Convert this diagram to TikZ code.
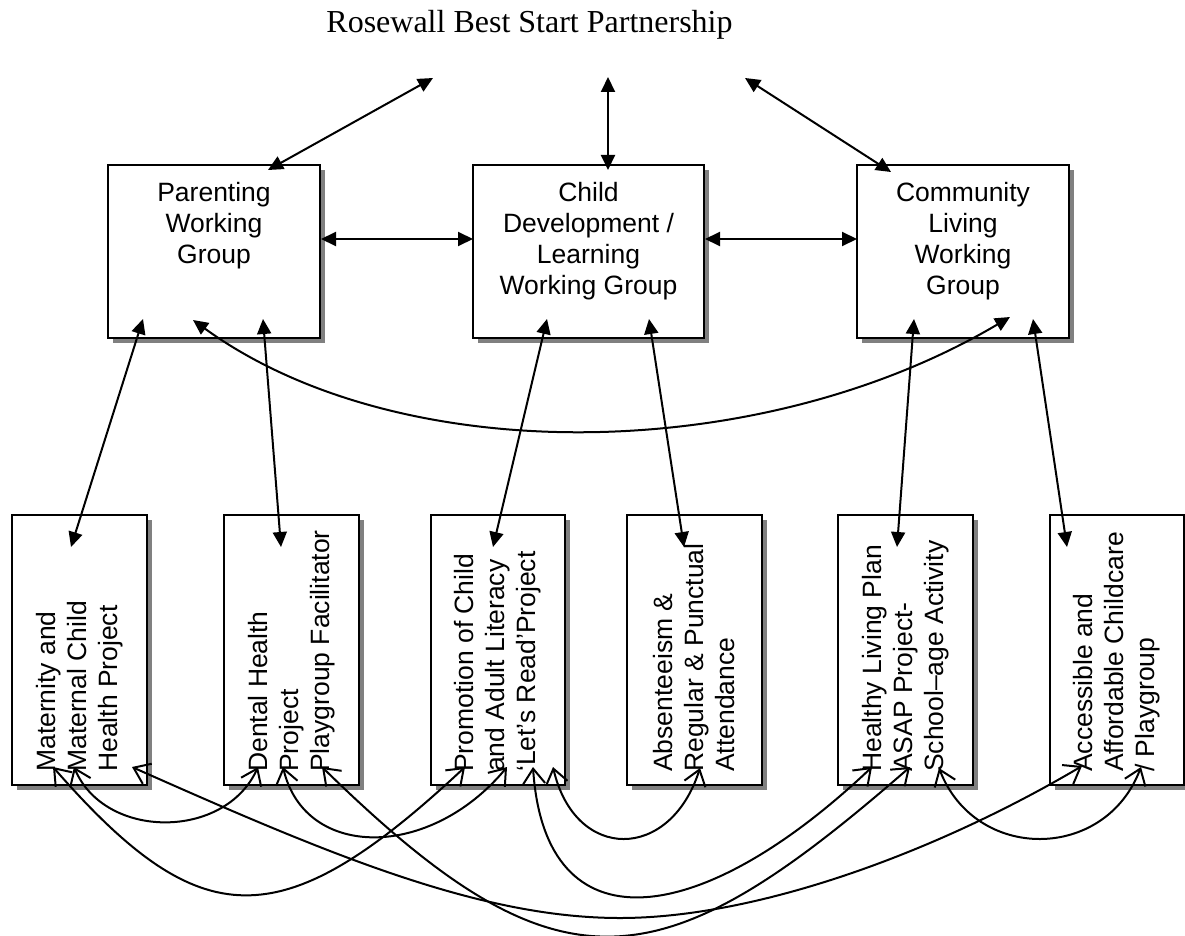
\documentclass[tikz,border=0pt]{standalone}
\usepackage{fontspec}
\setmainfont{Liberation Serif}
\newfontfamily\arialfont{Liberation Sans}
\usetikzlibrary{arrows.meta,shadows}
\definecolor{shadowgray}{RGB}{128,128,128}
\newcommand\boxfont{\arialfont\fontsize{26.5}{31}\selectfont}
\begin{document}
\begin{tikzpicture}[x=1pt,y=-1pt,
  box/.style={draw=black, line width=2.4pt, fill=white, inner sep=0pt,
    drop shadow={shadow xshift=5pt, shadow yshift=-5pt, fill=shadowgray, opacity=1}},
  topbox/.style={box, minimum height=173pt},
  lowbox/.style={box, minimum width=135pt, minimum height=270pt},
  toptext/.style={anchor=north, align=center, inner sep=0pt, font=\boxfont},
  lowtext/.style={rotate=90, anchor=west, align=left, inner sep=0pt, font=\boxfont},
  link/.style={line width=2pt, {Triangle[length=15pt,width=14pt]}-{Triangle[length=15pt,width=14pt]}},
  cross/.style={line width=2pt, {Straight Barb[length=15pt,width=22pt]}-{Straight Barb[length=15pt,width=22pt]}}
]
\useasboundingbox (0,0) rectangle (1185,936);
\fill[white] (0,0) rectangle (1185,936);

% title
\node[anchor=base, inner sep=0pt, font=\fontsize{32}{36}\selectfont] (title) at (529.5,33) {Rosewall Best Start Partnership};

% working group boxes
\node[topbox, minimum width=212pt] (par) at (214,251.5) {};
\node[topbox, minimum width=231pt] (chd) at (588.5,251.5) {};
\node[topbox, minimum width=212pt] (com) at (963,251.5) {};
\node[toptext] (part) at (214,182) {Parenting\\Working\\Group};
\node[toptext] (chdt) at (588.5,182) {Child\\Development /\\Learning\\Working Group};
\node[toptext] (comt) at (963,182) {Community\\Living\\Working\\Group};

% project boxes
\node[lowbox] (mat) at (79.5,650) {};
\node[lowbox] (den) at (291.5,650) {};
\node[lowbox, minimum width=134pt] (pro) at (498,650) {};
\node[lowbox] (abs) at (694.5,650) {};
\node[lowbox] (hea) at (905.5,650) {};
\node[lowbox, minimum width=134pt] (acc) at (1117,650) {};
\node[lowtext] (matt) at (79.5,772) {Maternity and\\Maternal Child\\Health Project};
\node[lowtext] (dent) at (291.5,772) {Dental Health\\Project\\Playgroup Facilitator};
\node[lowtext] (prot) at (498,772) {Promotion of Child\\and Adult Literacy\\‘Let’s Read’Project};
\node[lowtext] (abst) at (694.5,772) {Absenteeism \&\\Regular \& Punctual\\Attendance};
\node[lowtext] (heat) at (905.5,772) {Healthy Living Plan\\ASAP Project-\\School–age Activity};
\node[lowtext] (acct) at (1117,772) {Accessible and\\Affordable Childcare\\/ Playgroup};

% connector end points
\coordinate (tl) at (433,78);
\coordinate (tm) at (608,77);
\coordinate (tr) at (745,78);
\coordinate (pt) at (268,170);
\coordinate (ct) at (608,170);
\coordinate (mt) at (891,172);
\coordinate (h1a) at (321,239);
\coordinate (h1b) at (473,239);
\coordinate (h2a) at (705,239);
\coordinate (h2b) at (857,239);
\coordinate (pb1) at (143,319);
\coordinate (pb2) at (193,320);
\coordinate (pb3) at (263,319);
\coordinate (cb1) at (547,319);
\coordinate (cb2) at (649,319);
\coordinate (mb1) at (914,319);
\coordinate (mb2) at (1010,317);
\coordinate (mb3) at (1033,319);
\coordinate (ma) at (71,547);
\coordinate (de) at (281,547);
\coordinate (pr) at (493,547);
\coordinate (ab) at (684,547);
\coordinate (he) at (897,547);
\coordinate (ac) at (1067,547);

\coordinate (m1) at (53,767);
\coordinate (m2) at (74,767);
\coordinate (m3) at (132,767);
\coordinate (d1) at (258,767);
\coordinate (d2) at (283,767);
\coordinate (d3) at (322,767);
\coordinate (p1) at (465,767);
\coordinate (p2) at (507,767);
\coordinate (p3) at (533,767);
\coordinate (p4) at (553,767);
\coordinate (a1) at (700,768);
\coordinate (h1) at (872,767);
\coordinate (h2) at (910,767);
\coordinate (h3) at (939,768);
\coordinate (c1) at (1082,766);
\coordinate (c2) at (1141,767);

% partnership links
\draw[link] (tl) -- (pt);
\draw[link] (tm) -- (ct);
\draw[link] (tr) -- (mt);
\draw[link] (h1a) -- (h1b);
\draw[link] (h2a) -- (h2b);

% group to project links
\draw[link] (pb1) -- (ma);
\draw[link] (pb3) -- (de);
\draw[link] (cb1) -- (pr);
\draw[link] (cb2) -- (ab);
\draw[link] (mb1) -- (he);
\draw[link] (mb3) -- (ac);
\draw[link] (pb2) .. controls (400,470) and (760,465) .. (mb2);

% project cross links
\draw[cross] (m1) .. controls (200,935) and (280,940) .. (p1);
\draw[cross] (m2) .. controls (105,840) and (225,840) .. (d1);
\draw[cross] (m3) .. controls (330,855) and (480,918) .. (620,918) .. controls (760,918) and (940,850) .. (c1);
\draw[cross] (d2) .. controls (305,860) and (430,860) .. (p2);
\draw[cross] (d3) .. controls (560,1000) and (660,985) .. (h2);
\draw[cross] (p3) .. controls (545,950) and (700,930) .. (h1);
\draw[cross] (p4) .. controls (575,862) and (670,862) .. (a1);
\draw[cross] (h3) .. controls (975,862) and (1105,862) .. (c2);
\end{tikzpicture}
\end{document}
